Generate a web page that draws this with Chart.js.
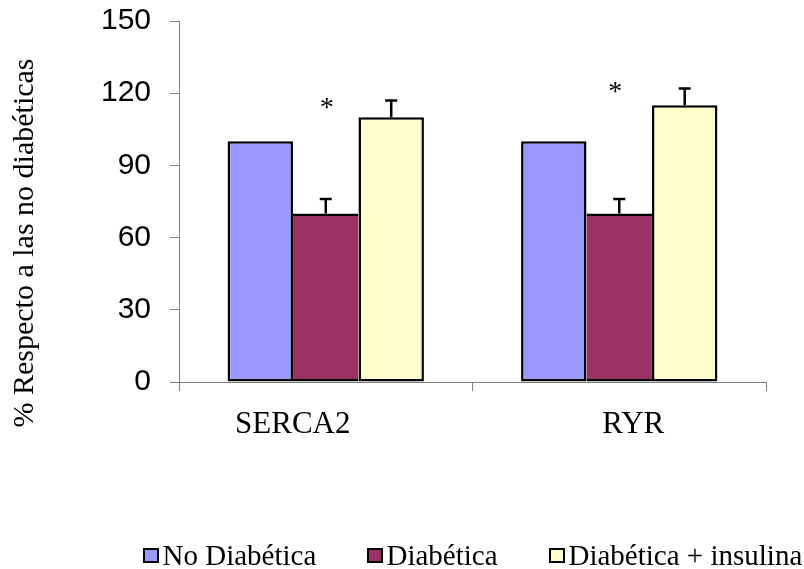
<!DOCTYPE html>
<html>
<head>
<meta charset="utf-8">
<script src="https://cdn.jsdelivr.net/npm/chart.js@4/dist/chart.umd.min.js"></script>
<style>
  html, body { margin: 0; padding: 0; background: #ffffff; }
  #wrap { width: 804px; height: 569px; }
</style>
</head>
<body>
<div id="wrap"><canvas id="c" width="804" height="569"></canvas></div>
<script>
// ---- data ----
const categories = ['SERCA2', 'RYR'];
const seriesNames = ['No Diabética', 'Diabética', 'Diabética + insulina'];
const noDiabetica = [100, 100];
const diabetica = [70, 70];
const diabeticaInsulina = [110, 115];
const errDiabetica = [6, 6];
const errInsulina = [7, 7];
const yTicks = [0, 30, 60, 90, 120, 150];
const asteriskLevel = [116, 122.6];
const yTitle = '% Respecto a las no diabéticas';

// ---- styles ----
const colors = ['#9999FF', '#993366', '#FFFFCC'];
const serif = '"Liberation Serif", "Times New Roman", serif';
const sans = '"Liberation Sans", Arial, sans-serif';
const catLabelShift = [-33, 14];
const asteriskShift = [1, -4];
const legendX = [143, 367, 549];

const overlay = {
  id: 'overlay',
  afterDatasetsDraw(chart) {
    const ctx = chart.ctx, xs = chart.scales.x, ys = chart.scales.y;
    // error bars
    [[1, errDiabetica], [2, errInsulina]].forEach(([di, errs]) => {
      const meta = chart.getDatasetMeta(di);
      meta.data.forEach((bar, i) => {
        const v = chart.data.datasets[di].data[i];
        const top = ys.getPixelForValue(v + errs[i]);
        ctx.save();
        ctx.strokeStyle = '#000';
        ctx.lineWidth = 2.5;
        ctx.beginPath();
        ctx.moveTo(bar.x, bar.y);
        ctx.lineTo(bar.x, top);
        ctx.moveTo(bar.x - 6, top);
        ctx.lineTo(bar.x + 6, top);
        ctx.stroke();
        ctx.restore();
      });
    });
    // asterisks
    const dm = chart.getDatasetMeta(1);
    ctx.save();
    ctx.fillStyle = '#000';
    ctx.font = '28px ' + serif;
    ctx.textAlign = 'center';
    ctx.textBaseline = 'alphabetic';
    dm.data.forEach((bar, i) => {
      const py = ys.getPixelForValue(asteriskLevel[i]);
      ctx.fillText('*', bar.x + asteriskShift[i], py + 0.47 * 28);
    });
    ctx.restore();
  },
  afterDraw(chart) {
    const ctx = chart.ctx, xs = chart.scales.x, ys = chart.scales.y;
    ctx.save();
    // category labels
    ctx.fillStyle = '#000';
    ctx.font = '31px ' + serif;
    ctx.textAlign = 'center';
    ctx.textBaseline = 'alphabetic';
    categories.forEach((c, i) => {
      ctx.fillText(c, xs.getPixelForValue(i) + catLabelShift[i], 433);
    });
    // y title
    ctx.save();
    ctx.translate(32.5, 243);
    ctx.rotate(-Math.PI / 2);
    ctx.font = '30px ' + serif;
    ctx.textAlign = 'center';
    ctx.fillText(yTitle, 0, 0);
    ctx.restore();
    // legend
    ctx.font = '29px ' + serif;
    ctx.textAlign = 'left';
    seriesNames.forEach((n, i) => {
      const bx = legendX[i];
      ctx.fillStyle = '#000';
      ctx.fillRect(bx, 548, 16, 15);
      ctx.fillStyle = colors[i];
      ctx.fillRect(bx + 2, 550, 12, 11);
      ctx.fillStyle = '#000';
      ctx.fillText(n, bx + 19.5, 565);
    });
    ctx.restore();
  }
};

const ds = (label, data, color, bw) => ({
  label, data,
  backgroundColor: color,
  borderColor: '#000000',
  borderWidth: bw,
  borderSkipped: false,
  categoryPercentage: 0.669,
  barPercentage: 1.0
});

const chart = new Chart(document.getElementById('c'), {
  type: 'bar',
  data: {
    labels: categories,
    datasets: [
      ds(seriesNames[0], noDiabetica, colors[0], {top: 2.5, bottom: 2.5, left: 2.5, right: 2.5}),
      ds(seriesNames[1], diabetica, colors[1], {top: 2.5, bottom: 2.5, left: 0, right: 0}),
      ds(seriesNames[2], diabeticaInsulina, colors[2], {top: 2.5, bottom: 2.5, left: 2.5, right: 2.5})
    ]
  },
  options: {
    responsive: false,
    animation: false,
    devicePixelRatio: 1,
    layout: { padding: { left: 0, right: 38, top: 21, bottom: 0 } },
    plugins: { legend: { display: false }, tooltip: { enabled: false }, title: { display: false } },
    scales: {
      x: {
        type: 'category',
        offset: true,
        grid: { display: true, drawOnChartArea: false, drawTicks: true, tickLength: 9, color: '#808080', offset: true, lineWidth: 1 },
        border: { display: true, color: '#808080', width: 1 },
        ticks: { display: false },
        afterFit: s => { s.height = 187; s.paddingLeft = 0; s.paddingRight = 0; }
      },
      y: {
        min: 0, max: 150,
        afterBuildTicks: s => { s.ticks = yTicks.map(v => ({ value: v })); },
        grid: { display: true, drawOnChartArea: false, drawTicks: true, tickLength: 9, color: '#808080', lineWidth: 1 },
        border: { display: true, color: '#808080', width: 1 },
        ticks: { color: '#000', font: { family: sans, size: 30 }, padding: 19 },
        afterFit: s => { s.width = 179; s.paddingTop = 0; s.paddingBottom = 0; }
      }
    }
  },
  plugins: [overlay]
});
</script>
</body>
</html>
